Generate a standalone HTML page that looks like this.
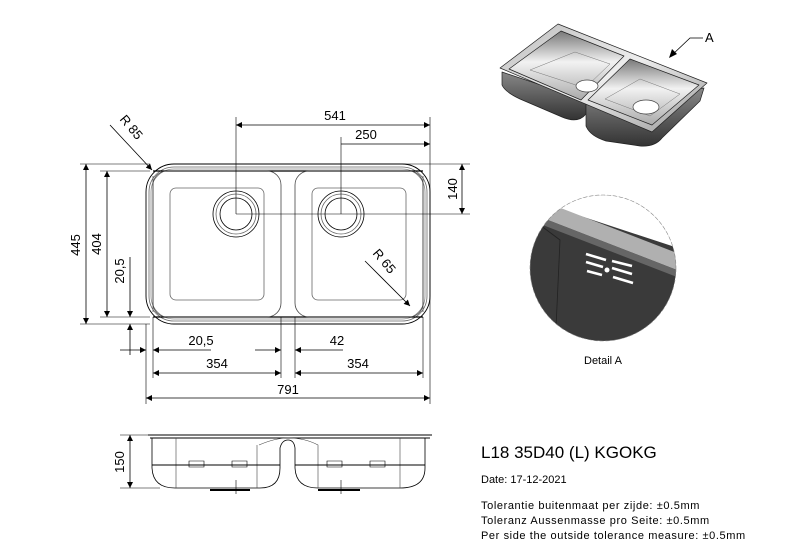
<!DOCTYPE html>
<html><head><meta charset="utf-8"><style>
html,body{margin:0;padding:0;background:#fff;}
svg{display:block;font-family:"Liberation Sans",Arial,sans-serif;}
</style></head><body>
<svg width="795" height="549" viewBox="0 0 795 549" xmlns="http://www.w3.org/2000/svg">
<defs>
<marker id="a" viewBox="0 0 10 10" refX="10" refY="5" markerWidth="9" markerHeight="6" orient="auto-start-reverse" markerUnits="userSpaceOnUse"><path d="M0,0L10,5L0,10z" fill="#000"/></marker>
<linearGradient id="g1" x1="0" y1="0" x2="1" y2="1"><stop offset="0" stop-color="#bbb"/><stop offset=".5" stop-color="#eee"/><stop offset="1" stop-color="#999"/></linearGradient>
<linearGradient id="g2" x1="0" y1="0" x2="0" y2="1"><stop offset="0" stop-color="#777"/><stop offset=".45" stop-color="#f2f2f2"/><stop offset="1" stop-color="#aaa"/></linearGradient>
<linearGradient id="g3" x1="0" y1="0" x2="0" y2="1"><stop offset="0" stop-color="#888"/><stop offset="1" stop-color="#333"/></linearGradient>
<clipPath id="cc"><circle cx="603" cy="268" r="73"/></clipPath>
</defs>
<g fill="none" stroke="#000" stroke-width="0.8">
<rect x="146" y="164" width="284" height="160" rx="28" stroke-width="0.9"/>
<rect x="149" y="167" width="278" height="154" rx="25" stroke="#666"/>
<rect x="151" y="169" width="274" height="150" rx="23" stroke="#888"/>
<line x1="153" y1="171" x2="423" y2="171" stroke-width="1.2"/>
<line x1="153" y1="317" x2="423" y2="317" stroke-width="1.2"/>
<path d="M153,176 V312 M423,176 V312" stroke="#555"/>
<rect x="153" y="171" width="128" height="146" rx="14" stroke="#444"/>
<rect x="295" y="171" width="128" height="146" rx="14" stroke="#444"/>
<rect x="170" y="188" width="94" height="112" rx="6" stroke="#666"/>
<rect x="312" y="188" width="94" height="112" rx="6" stroke="#666"/>
<circle cx="236" cy="214" r="23"/><circle cx="236" cy="214" r="20" stroke="#666"/><circle cx="236" cy="214" r="16"/>
<circle cx="341" cy="214" r="23"/><circle cx="341" cy="214" r="20" stroke="#666"/><circle cx="341" cy="214" r="16"/>
<path d="M236,117 V214 M341,137 V214 M430,117 V404 M236,214 H470 M400,164 H470 M80,164 H150 M100,171 H150 M100,317 H150 M80,324 H150 M146,324 V404 M153,317 V378 M281,317 V378 M295,317 V378 M423,317 V378" stroke-width="0.6"/>
<line x1="236" y1="125" x2="430" y2="125" marker-start="url(#a)" marker-end="url(#a)"/>
<line x1="341" y1="144" x2="430" y2="144" marker-end="url(#a)"/>
<line x1="462" y1="164" x2="462" y2="214" marker-start="url(#a)" marker-end="url(#a)"/>
<line x1="86" y1="164" x2="86" y2="324" marker-start="url(#a)" marker-end="url(#a)"/>
<line x1="107" y1="171" x2="107" y2="317" marker-start="url(#a)" marker-end="url(#a)"/>
<line x1="130" y1="257" x2="130" y2="317" marker-end="url(#a)"/>
<line x1="130" y1="355" x2="130" y2="324" marker-end="url(#a)"/>
<line x1="120" y1="350" x2="146" y2="350" marker-end="url(#a)"/>
<line x1="211" y1="350" x2="153" y2="350" marker-end="url(#a)"/>
<line x1="255" y1="350" x2="281" y2="350" marker-end="url(#a)"/>
<line x1="343" y1="350" x2="295" y2="350" marker-end="url(#a)"/>
<line x1="153" y1="373" x2="281" y2="373" marker-start="url(#a)" marker-end="url(#a)"/>
<line x1="295" y1="373" x2="423" y2="373" marker-start="url(#a)" marker-end="url(#a)"/>
<line x1="146" y1="398" x2="430" y2="398" marker-start="url(#a)" marker-end="url(#a)"/>
<line x1="110" y1="125" x2="152" y2="170" marker-end="url(#a)"/>
<line x1="365" y1="261" x2="410" y2="306" marker-end="url(#a)"/>
<path d="M148,435 H432 M150,438 H430" stroke-width="1"/>
<path d="M152,438 V468 Q153,488 175,488 H260 Q280,488 280,468 V448 Q282,440 288,440 Q294,440 295,448 V468 Q296,488 318,488 H400 Q425,488 425,468 V438" />
<path d="M176,438 V488 M257,445 V488 M259,445 Q275,438 288,438 Q305,438 318,445 V488 M400,438 V488" stroke="#444" stroke-width="0.6"/>
<path d="M152,465 H280 M295,465 H425" stroke-width="0.9"/>
<path d="M210,490 H250 M318,490 H360" stroke-width="2"/>
<path d="M236,480 V494 M341,480 V494" stroke-width="0.6"/>
<path d="M189,461 h15 v6 h-15z M232,461 h15 v6 h-15z M327,461 h15 v6 h-15z M370,461 h15 v6 h-15z" stroke-width="0.6"/>
<path d="M120,435 H150 M120,488 H160" stroke-width="0.6"/>
<line x1="130" y1="435" x2="130" y2="488" marker-start="url(#a)" marker-end="url(#a)"/>
</g>
<g font-size="13" fill="#000" text-anchor="middle">
<text x="335" y="120">541</text>
<text x="366" y="139">250</text>
<text transform="translate(457,189) rotate(-90)">140</text>
<text transform="translate(80,245) rotate(-90)">445</text>
<text transform="translate(101,244) rotate(-90)">404</text>
<text transform="translate(124,271) rotate(-90)">20,5</text>
<text x="201" y="345">20,5</text>
<text x="337" y="345">42</text>
<text x="217" y="368">354</text>
<text x="358" y="368">354</text>
<text x="288" y="394">791</text>
<text transform="translate(128,130) rotate(50)">R 85</text>
<text transform="translate(381,264) rotate(50)">R 65</text>
<text transform="translate(124,462) rotate(-90)">150</text>
</g>
<g fill="#000" font-size="11">
<text x="481" y="458" font-size="17">L18 35D40 (L) KGOKG</text>
<text x="481" y="483">Date: 17-12-2021</text>
<text x="481" y="509" letter-spacing="0.6">Tolerantie buitenmaat per zijde: ±0.5mm</text>
<text x="481" y="524" letter-spacing="0.6">Toleranz Aussenmasse pro Seite: ±0.5mm</text>
<text x="481" y="539" letter-spacing="0.6">Per side the outside tolerance measure: ±0.5mm</text>
<text x="584" y="364" font-size="11">Detail A</text>
<text x="705" y="42" font-size="13">A</text>
</g>
<!-- 3D sink -->
<g stroke="#222" stroke-width="0.7" stroke-linejoin="round">
<path d="M502,72 L502,85 Q505,92 520,99 L562,117 Q578,124 586,114 L586,100 Z" fill="url(#g3)"/>
<path d="M586,104 L586,126 Q590,136 606,141 L640,146 Q655,147 662,138 L700,101 L704,88 Z" fill="url(#g3)"/>
<path d="M558,24 L707,83 L652,132 L500,68 Z" fill="url(#g1)"/>
<path d="M561,31 L624,56 L581,100 L509,69 Z" fill="url(#g2)"/>
<path d="M630,59 L699,85 L652,125 L588,100 Z" fill="url(#g2)"/>
<path d="M575,52 L610,64 L585,88 L530,70Z" fill="none" stroke="#777" stroke-width="0.5"/>
<path d="M640,79 L680,94 L650,116 L605,99Z" fill="none" stroke="#777" stroke-width="0.5"/>
<ellipse cx="587" cy="86" rx="11" ry="6" fill="#fff" stroke="#444"/>
<ellipse cx="646" cy="107" rx="13" ry="7" fill="#fff" stroke="#444"/>
</g>
<path d="M671,56 L690,38 L703,38" fill="none" stroke="#000" stroke-width="0.8"/>
<path d="M669,58 l3,-9 l5,5z" fill="#000"/>
<!-- Detail A -->
<g clip-path="url(#cc)">
<rect x="520" y="190" width="170" height="160" fill="#3a3a3a"/>
<path d="M520,190 L690,190 L690,252 L520,196 Z" fill="#fff"/>
<path d="M540,200 L690,258 L690,275 L535,215 Z" fill="#b0b0b0"/>
<path d="M535,215 L690,275 L690,282 L535,222 Z" fill="#666"/>
<path d="M540,225 L560,240 L555,350" fill="none" stroke="#222" stroke-width="0.8"/>
<g stroke="#fff" stroke-width="2.5">
<line x1="586" y1="254" x2="606" y2="260"/><line x1="586" y1="262" x2="603" y2="267"/><line x1="612" y1="268" x2="632" y2="274"/><line x1="587" y1="271" x2="602" y2="275"/><line x1="613" y1="277" x2="633" y2="283"/><line x1="612" y1="261" x2="632" y2="266"/></g>
<circle cx="607" cy="270" r="2.5" fill="#fff"/>
</g>
<circle cx="603" cy="268" r="73" fill="none" stroke="#888" stroke-width="0.6" stroke-dasharray="4,2"/>
</svg>
</body></html>
